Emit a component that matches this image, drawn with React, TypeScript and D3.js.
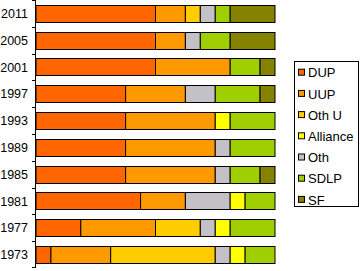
import * as d3 from 'd3';
import React, { useRef, useEffect } from 'react';

// seats per party, rows top to bottom
const years = ['2011', '2005', '2001', '1997', '1993', '1989', '1985', '1981', '1977', '1973'];
const parties = ['DUP', 'UUP', 'Oth U', 'Alliance', 'Oth', 'SDLP', 'SF'];
// bars are stacked with Oth before Alliance
const stackOrder = ['DUP', 'UUP', 'Oth U', 'Oth', 'Alliance', 'SDLP', 'SF'];
const colours = ['#FF6600', '#FF9900', '#FFCC00', '#FFFF00', '#C4C1C6', '#9FCF00', '#858200'];

const dup = [8, 8, 8, 6, 6, 6, 6, 7, 3, 1];
const uup = [2, 2, 5, 4, 6, 6, 6, 3, 5, 4];
const othU = [1, 0, 0, 0, 0, 0, 0, 0, 3, 7];
const alliance = [0, 0, 0, 0, 1, 0, 0, 1, 1, 1];
const oth = [1, 1, 0, 2, 0, 1, 1, 3, 1, 1];
const sdlp = [1, 2, 2, 3, 3, 3, 2, 2, 3, 2];
const sf = [3, 3, 1, 1, 0, 0, 1, 0, 0, 0];

const App = () => {
    const ref = useRef<HTMLDivElement>(null);

    useEffect(() => {
        document.body.style.margin = '0';
        d3.select(ref.current).selectAll('svg').remove();

        const width = 360;
        const height = 271;
        const font = 'Liberation Sans, Arial, sans-serif';

        const svg = d3.select(ref.current)
            .append('svg')
            .attr('width', width)
            .attr('height', height)
            .style('display', 'block');

        const series = [dup, uup, othU, alliance, oth, sdlp, sf];
        const rows = years.map((yr, i) => {
            const row: any = { year: yr };
            parties.forEach((p, j) => { row[p] = series[j][i]; });
            return row;
        });

        const stacked = d3.stack().keys(stackOrder)(rows);

        const x = d3.scaleLinear()
            .domain([0, 16])
            .range([36, 275]);

        const y = d3.scaleBand()
            .domain(years)
            .range([0, 268])
            .paddingInner(0.36)
            .paddingOuter(0.18);

        const colour = d3.scaleOrdinal<string>().domain(parties).range(colours);

        // bars
        svg.append('g')
            .selectAll('g')
            .data(stacked)
            .enter().append('g')
            .attr('fill', d => colour(d.key))
            .selectAll('rect')
            .data(d => d.filter(s => s[1] - s[0] > 0))
            .enter().append('rect')
            .attr('x', d => x(d[0]))
            .attr('y', d => Math.round(y(d.data.year as any)!) + 0.5)
            .attr('width', d => x(d[1]) - x(d[0]))
            .attr('height', Math.round(y.bandwidth()))
            .attr('stroke', '#000')
            .attr('stroke-width', 1);

        // category axis, ticks between bands
        const axis = svg.append('g');
        axis.append('line')
            .attr('x1', 35.5).attr('x2', 35.5)
            .attr('y1', 0).attr('y2', 268)
            .attr('stroke', '#000');
        axis.selectAll('.tick')
            .data(d3.range(years.length + 1))
            .enter().append('line')
            .attr('x1', 32).attr('x2', 35.5)
            .attr('y1', i => Math.min(267.5, Math.round(i * y.step()) + 0.5))
            .attr('y2', i => Math.min(267.5, Math.round(i * y.step()) + 0.5))
            .attr('stroke', '#000');
        axis.selectAll('text')
            .data(years)
            .enter().append('text')
            .attr('x', 28)
            .attr('y', d => y(d)! + y.bandwidth() / 2)
            .attr('dy', '0.36em')
            .attr('text-anchor', 'end')
            .style('font-family', font)
            .style('font-size', '12.5px')
            .text(d => d);

        // legend
        const legend = svg.append('g');
        legend.append('rect')
            .attr('x', 294.5).attr('y', 61.5)
            .attr('width', 64).attr('height', 145)
            .attr('fill', '#fff')
            .attr('stroke', '#000');
        const item = legend.selectAll('.item')
            .data(parties)
            .enter().append('g')
            .attr('transform', (d, i) => `translate(0, ${72.7 + i * 21.2})`);
        item.append('rect')
            .attr('x', 298.5).attr('y', -3.5)
            .attr('width', 6).attr('height', 6)
            .attr('fill', d => colour(d))
            .attr('stroke', '#000');
        item.append('text')
            .attr('x', 308)
            .attr('dy', '0.36em')
            .style('font-family', font)
            .style('font-size', '13px')
            .text(d => d);
    }, []);

    return <div ref={ref}></div>;
};

export default App;
